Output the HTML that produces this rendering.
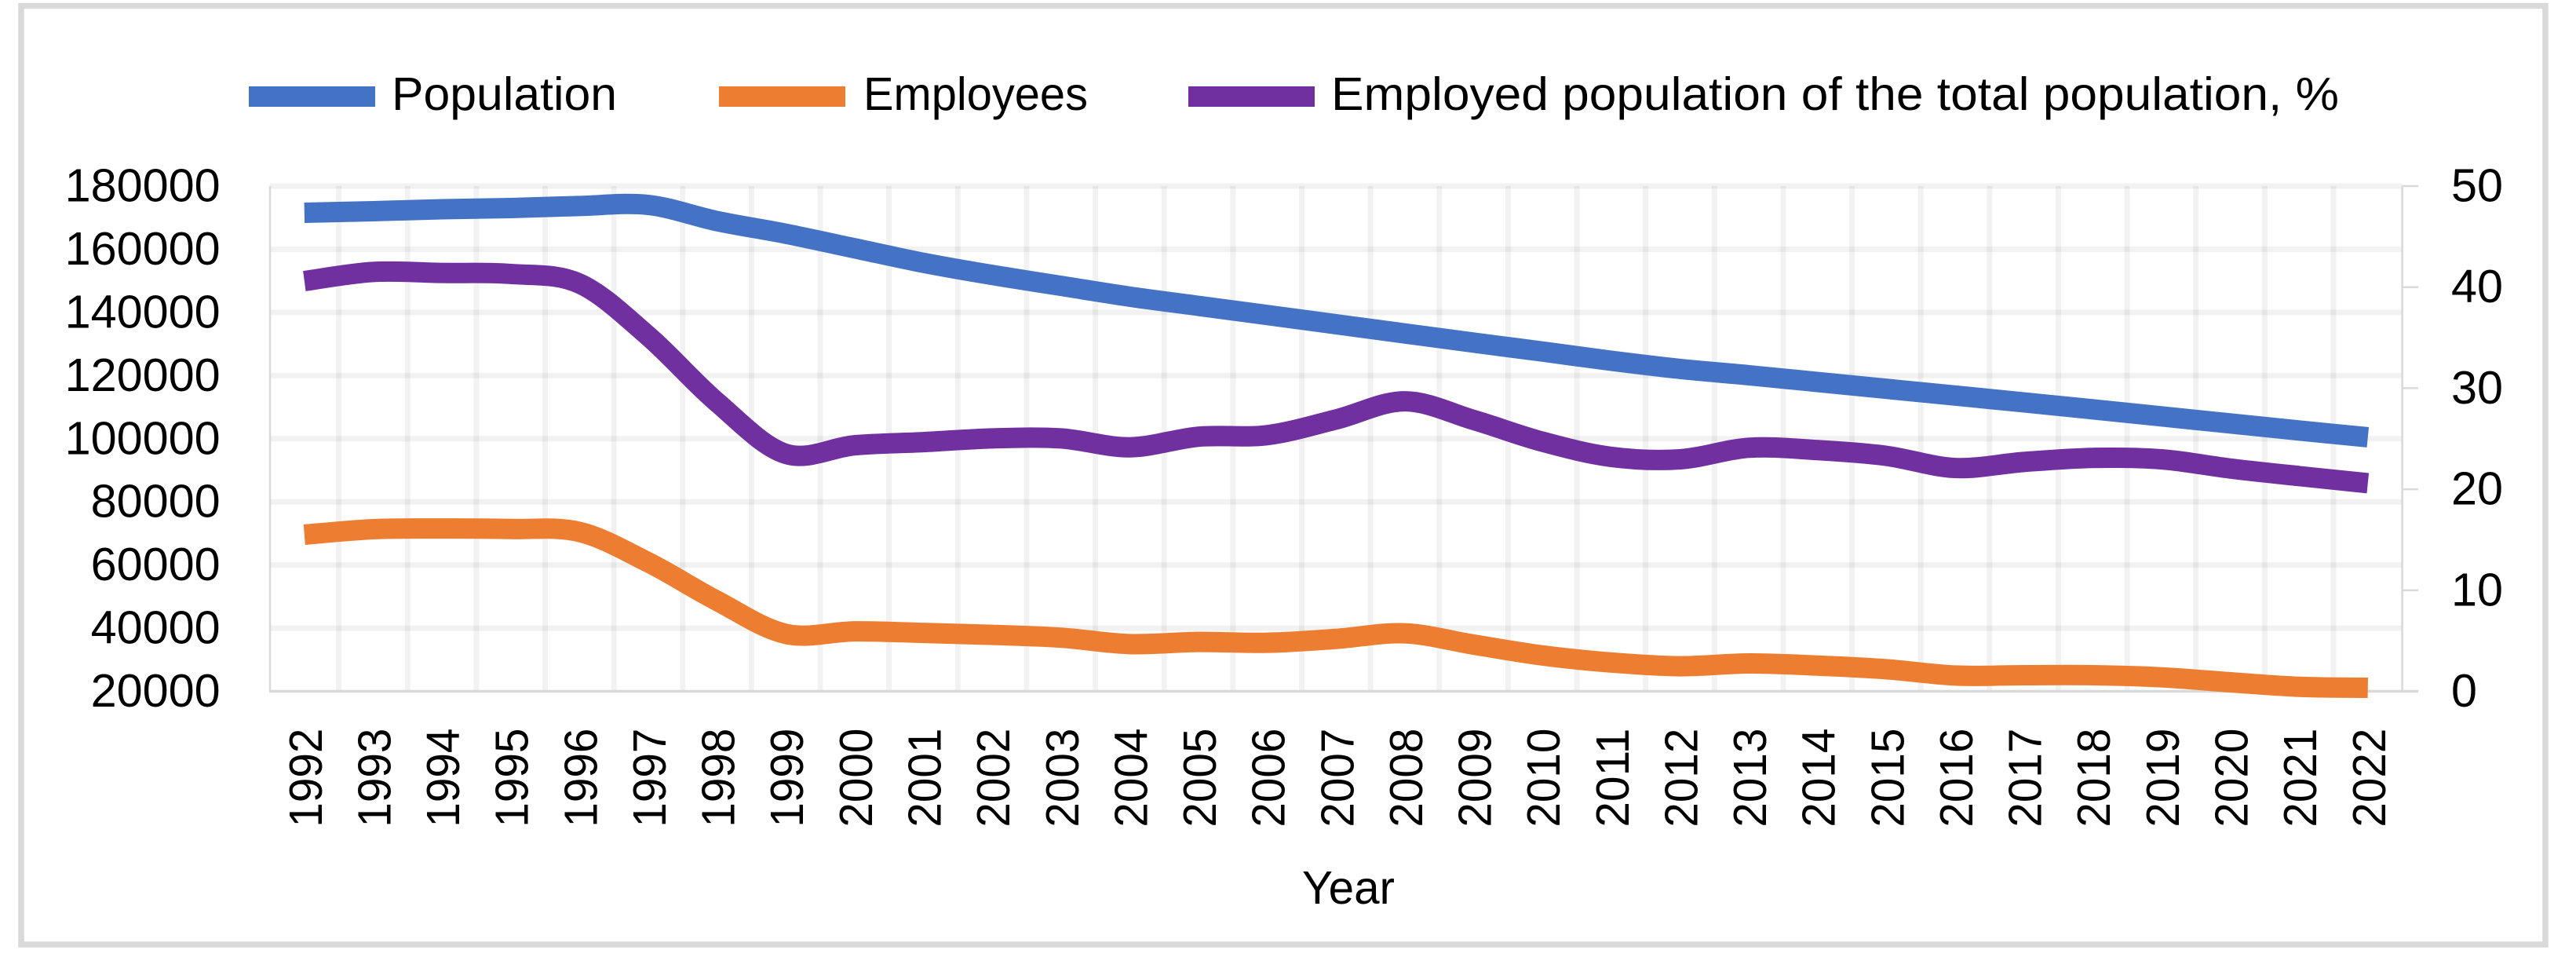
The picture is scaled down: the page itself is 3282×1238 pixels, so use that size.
<!DOCTYPE html>
<html lang="en">
<head>
<meta charset="utf-8">
<title>Population and employees, 1992-2022</title>
<style>
  html, body { margin: 0; padding: 0; background: #fff; }
  svg { display: block; }
  text { font-family: "Liberation Sans", sans-serif; fill: #000; }
</style>
</head>
<body>
<svg id="chart" xmlns="http://www.w3.org/2000/svg" width="3282" height="1238" viewBox="0 0 3282 1238">
  <rect x="0" y="0" width="3282" height="1238" fill="#ffffff"/>
  <rect x="27" y="7.5" width="3216" height="1195.5" fill="#ffffff" stroke="#d9d9d9" stroke-width="7.5"/>
  <g id="grid"></g>
  <g id="axes"></g>
  <g id="series"></g>
  <g id="labels"></g>

  <g>
    <g>
      <rect x="317" y="110" width="161" height="26" fill="#4472c4"/>
      <text x="499" y="140" font-size="59" textLength="287" lengthAdjust="spacingAndGlyphs">Population</text>
    </g>
    <g>
      <rect x="916" y="110" width="161" height="26" fill="#ed7d31"/>
      <text x="1100" y="140" font-size="59" textLength="286" lengthAdjust="spacingAndGlyphs">Employees</text>
    </g>
    <g>
      <rect x="1514" y="110" width="161" height="26" fill="#7030a0"/>
      <text x="1696" y="140" font-size="59" textLength="1284" lengthAdjust="spacingAndGlyphs">Employed population of the total population, %</text>
    </g>
  </g>
  <text x="1659" y="1151" font-size="59" textLength="118" lengthAdjust="spacingAndGlyphs">Year</text>
</svg>

<script>
// ---- chart data ----
const years = [1992,1993,1994,1995,1996,1997,1998,1999,2000,2001,2002,2003,2004,2005,2006,2007,2008,2009,2010,2011,2012,2013,2014,2015,2016,2017,2018,2019,2020,2021,2022];
const population = [171550,172040,172660,173040,173700,174030,168900,164900,160300,155700,151850,148400,144970,142060,139150,136240,133330,130420,127590,124680,122100,120100,117950,115800,113650,111500,109300,107070,104830,102600,100440];
const employees = [69600,71350,71550,71400,70470,60830,48640,38180,38990,38500,37880,36990,34960,35640,35370,36600,38370,34790,31360,29120,27940,28830,28150,27000,25000,25100,25100,24430,22860,21440,21130];
const employedShare = [40.6,41.5,41.4,41.3,40.35,35.15,28.6,23.5,24.35,24.66,25.03,25.03,24.15,25.2,25.35,26.9,28.7,26.85,24.7,23.2,22.96,24.1,23.87,23.3,22.1,22.7,23.1,22.96,22.05,21.3,20.6];
const leftTicks = [20000,40000,60000,80000,100000,120000,140000,160000,180000];
const rightTicks = [0,10,20,30,40,50];

// ---- layout ----
const plotLeft = 344, plotRight = 3060.6, plotTop = 237, plotBottom = 880.5;
const leftMin = 20000, leftMax = 180000, rightMin = 0, rightMax = 50;
const NS = 'http://www.w3.org/2000/svg';

function xBand() { return (plotRight - plotLeft) / years.length; }
function xScale(i) { return plotLeft + xBand() * (i + 0.5); }
function yLeft(v) { return plotBottom - (v - leftMin) / (leftMax - leftMin) * (plotBottom - plotTop); }
function yRight(v) { return plotBottom - (v - rightMin) / (rightMax - rightMin) * (plotBottom - plotTop); }

function make(tag, attrs, parent) {
  const el = document.createElementNS(NS, tag);
  for (const k in attrs) el.setAttribute(k, attrs[k]);
  parent.appendChild(el);
  return el;
}

// Catmull-Rom style smoothing, as spreadsheet "smoothed line" charts use
function smoothPath(pts) {
  let d = 'M' + pts[0][0].toFixed(2) + ' ' + pts[0][1].toFixed(2);
  for (let i = 0; i < pts.length - 1; i++) {
    const p0 = pts[Math.max(i - 1, 0)], p1 = pts[i], p2 = pts[i + 1], p3 = pts[Math.min(i + 2, pts.length - 1)];
    const c1x = p1[0] + (p2[0] - p0[0]) / 6, c1y = p1[1] + (p2[1] - p0[1]) / 6;
    const c2x = p2[0] - (p3[0] - p1[0]) / 6, c2y = p2[1] - (p3[1] - p1[1]) / 6;
    d += 'C' + c1x.toFixed(2) + ' ' + c1y.toFixed(2) + ' ' + c2x.toFixed(2) + ' ' + c2y.toFixed(2) + ' ' + p2[0].toFixed(2) + ' ' + p2[1].toFixed(2);
  }
  return d;
}

const gridG = document.getElementById('grid');
const axesG = document.getElementById('axes');
const seriesG = document.getElementById('series');
const labelsG = document.getElementById('labels');

// horizontal gridlines
leftTicks.forEach(function (t) {
  if (t === leftMin) return;
  const line = make('line', { x1: plotLeft, x2: plotRight, y1: yLeft(t), y2: yLeft(t), stroke: '#000', 'stroke-opacity': 0.05, 'stroke-width': 7 }, gridG);
  
  
});

// vertical gridlines between categories
years.forEach(function (y, i) {
  if (i === 0) return;
  const gx = plotLeft + xBand() * i;
  const line = make('line', { x1: gx, x2: gx, y1: plotTop, y2: plotBottom, stroke: '#000', 'stroke-opacity': 0.05, 'stroke-width': 7 }, gridG);
  
  
});

// axis lines
const leftAxis = make('line', { x1: plotLeft, x2: plotLeft, y1: plotTop, y2: plotBottom, stroke: '#d9d9d9', 'stroke-width': 2.5 }, axesG);



const rightAxis = make('line', { x1: plotRight, x2: plotRight, y1: plotTop, y2: plotBottom, stroke: '#d9d9d9', 'stroke-width': 2.5 }, axesG);



const bottomAxis = make('line', { x1: plotLeft - 1, x2: plotRight, y1: plotBottom, y2: plotBottom, stroke: '#d9d9d9', 'stroke-width': 3.5 }, axesG);



rightTicks.forEach(function (t) {
  const tick = make('line', { x1: plotRight, x2: plotRight + 20.5, y1: yRight(t), y2: yRight(t), stroke: '#d9d9d9', 'stroke-width': t === rightMin ? 3.5 : 2.5 }, axesG);
  
  
});

// series lines
function drawSeries(values, yFn, color, name) {
  const pts = values.map(function (v, i) { return [xScale(i), yFn(v)]; });
  const path = make('path', { d: smoothPath(pts), fill: 'none', stroke: color, 'stroke-width': 26, 'stroke-linecap': 'butt', 'stroke-linejoin': 'round' }, seriesG);
  
  
}
drawSeries(population, yLeft, '#4472c4', 'population-line');
drawSeries(employees, yLeft, '#ed7d31', 'employees-line');
drawSeries(employedShare, yRight, '#7030a0', 'employed-share-line');

// left-axis labels
leftTicks.forEach(function (t) {
  const s = String(t);
  const w = s.length * 33;
  const label = make('text', { x: 280.6 - w, y: yLeft(t) + 19.5, 'font-size': 59, textLength: w, lengthAdjust: 'spacingAndGlyphs' }, labelsG);
  label.textContent = s;
  
  
});

// right-axis labels
rightTicks.forEach(function (t) {
  const s = String(t);
  const w = s.length * 33;
  const label = make('text', { x: 3123, y: yRight(t) + 19.5, 'font-size': 59, textLength: w, lengthAdjust: 'spacingAndGlyphs' }, labelsG);
  label.textContent = s;
  
  
});

// rotated year labels
years.forEach(function (y, i) {
  const bx = xScale(i) + 22;
  const by = 1053.6;
  const label = make('text', { x: bx, y: by, transform: 'rotate(-90 ' + bx.toFixed(2) + ' ' + by + ')', 'font-size': 59, textLength: 126, lengthAdjust: 'spacingAndGlyphs' }, labelsG);
  label.textContent = String(y);
  
  
});
</script>
</body>
</html>
